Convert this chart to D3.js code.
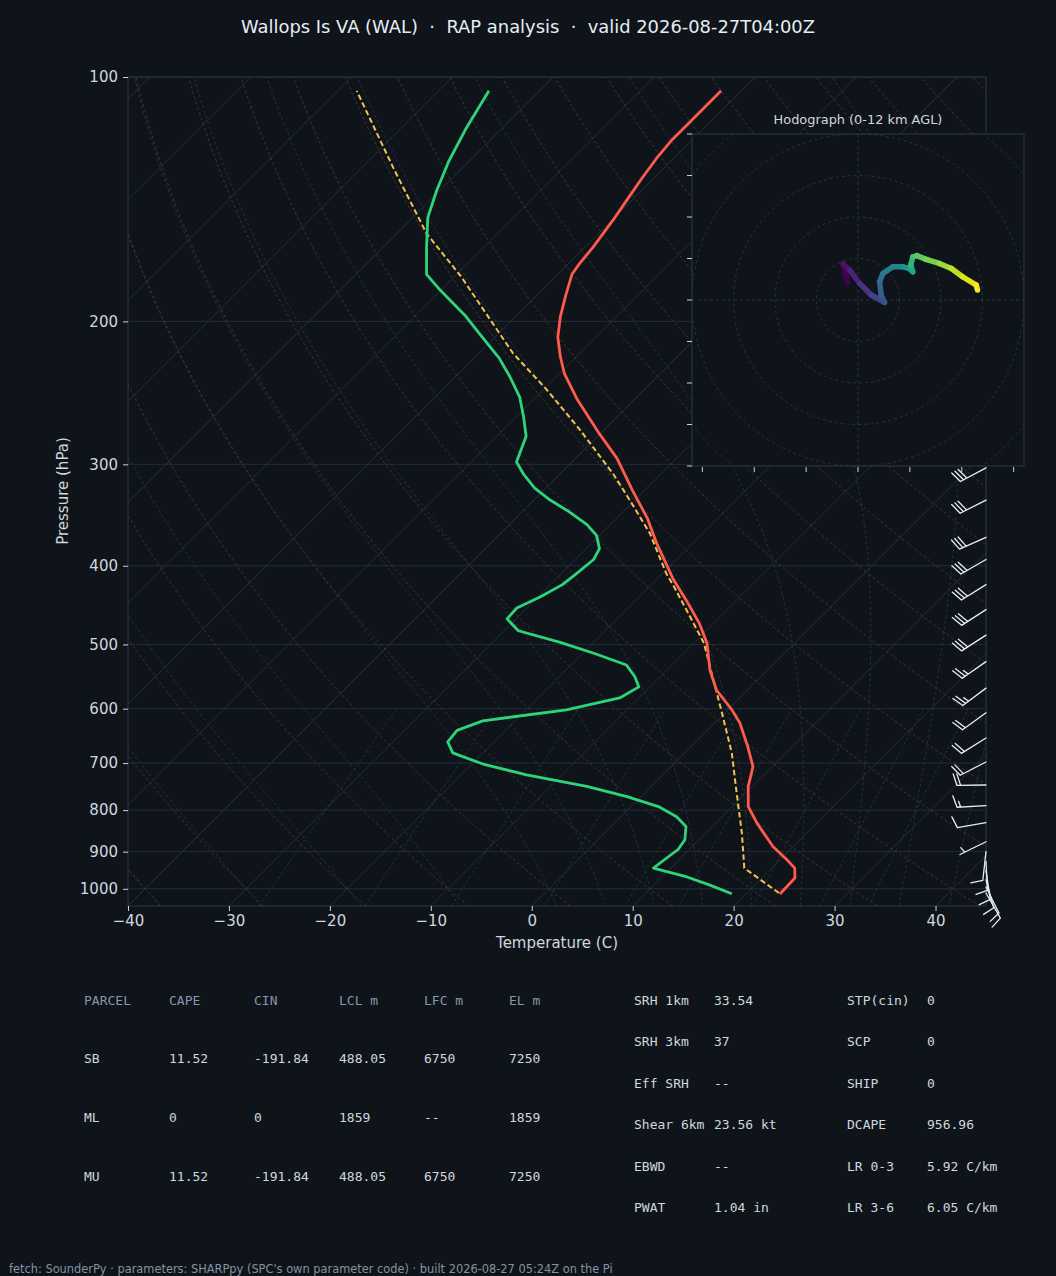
<!DOCTYPE html>
<html>
<head>
<meta charset="utf-8">
<title>Skew-T WAL</title>
<script src="https://cdn.jsdelivr.net/npm/d3@7"></script>
<style>
    body { margin: 0; background: #0f141b; }
    svg { display: block; font-family: "DejaVu Sans", sans-serif; }
    .mono { font-family: "DejaVu Sans Mono", monospace; font-size: 13px; }
</style>
</head>
<body>
<svg id="chart" width="1056" height="1276"></svg>
<script>
const tempP = [1015, 970, 943, 921, 887, 830, 792, 748, 707, 668, 625, 602, 569, 538, 498, 471, 441, 416, 375,
               350, 323, 295, 275, 249, 232, 221, 209, 197, 186, 175, 170, 162, 150, 142, 133, 126, 120, 112, 104];
const tempC = [23.4, 23.3, 22.3, 20.7, 18.0, 14.1, 11.6, 9.6, 8.1, 5.6, 2.5, 0.4, -3.1, -5.7, -8.7, -11.4, -15.0, -18.3, -23.6,
               -26.9, -31.2, -35.9, -40.1, -45.8, -49.5, -51.6, -53.8, -55.6, -57.1, -58.6, -58.9, -59.2, -59.9, -60.5, -61.2, -61.7, -62.0, -62.0, -62.0];

const dewP = [1014, 989, 967, 943, 917, 895, 870, 838, 815, 792, 770, 748, 724, 702, 680, 659, 638, 621, 602, 582,
              564, 548, 530, 513, 497, 481, 465, 451, 437, 422, 409, 393, 381, 367, 356, 343, 332, 321, 309, 298,
              277, 262, 248, 234, 222, 207, 197, 183, 175, 162, 149, 138, 127, 116, 104];
const dewC = [18.6, 15.5, 12.5, 8.3, 8.6, 8.9, 8.6, 7.4, 5.5, 2.7, -1.4, -6.4, -13.5, -18.9, -23.0, -24.6, -24.8, -23.2, -16.0, -11.9,
              -11.1, -12.5, -14.5, -18.8, -23.3, -28.6, -30.9, -31.0, -29.8, -28.8, -28.5, -28.2, -28.7, -30.3, -32.3, -35.4, -38.4, -41.1, -43.5, -45.5,
              -47.1, -49.3, -51.6, -54.6, -57.5, -61.9, -65.0, -70.1, -73.0, -75.7, -78.5, -80.3, -82.0, -83.5, -85.0];

const parcelP = [1012, 943, 854, 762, 681, 614, 548, 498, 462, 424, 409, 365, 338, 309, 272, 243, 219, 195, 176, 156, 130, 104];
const parcelC = [23.2, 17.3, 13.6, 9.1, 4.7, 0.2, -4.8, -9.0, -13.0, -17.6, -19.6, -25.2, -29.5, -34.6, -42.4, -49.6, -56.6, -63.4, -69.4, -77.0, -86.6, -98.1];

// wind barbs (kt)
const barbP = [303, 332, 369, 393, 422, 453, 487, 525, 566, 607, 652, 698, 745, 790, 829, 875, 900, 925, 950, 975, 995, 1012];
const barbU = [26.5, 26.7, 27.4, 26.0, 25.4, 23.5, 23.5, 22.1, 19.2, 17.8, 17.0, 17.8, 19.0, 15.0, 9.8, 4.5, 1.0, -0.5, -1.5, -2.5, -3.5, -4.0];
const barbV = [14.1, 13.6, 12.2, 15.0, 15.9, 15.2, 15.2, 15.5, 14.4, 12.9, 10.6, 9.1, 0.3, 0.8, 1.7, 2.2, 9.0, 10.0, 10.0, 9.0, 7.0, 7.0];

// hodograph trace 0-12 km (kt), surface first
const hodoU = [-2.5, -3.6, -2.0, 0.4, 3.2, 6.4, 5.6, 5.2, 6.0, 8.4, 10.8, 12.4, 13.2, 12.7, 13.2, 14.2, 16.4, 19.6, 22.5, 25.2, 28.5, 28.8];
const hodoV = [4.2, 8.7, 7.2, 4.0, 1.2, -0.6, 1.2, 4.4, 6.4, 8.0, 8.0, 7.6, 6.8, 8.4, 10.4, 10.7, 9.8, 8.8, 7.6, 5.6, 3.6, 2.4];
const hodoRings = [10, 20, 30, 40, 50];
const hodoYTicks = [-40, -30, -20, -10, 0, 10, 20, 30, 40];
const hodoXTicks = [-37.5, -25, -12.5, 0, 12.5, 25, 37.5];

const pressureTicks = [100, 200, 300, 400, 500, 600, 700, 800, 900, 1000];
const tempTicks = [-40, -30, -20, -10, 0, 10, 20, 30, 40];

const parcelHeader = ["PARCEL", "CAPE", "CIN", "LCL m", "LFC m", "EL m"];
const parcelRows = [
    ["SB", "11.52", "-191.84", "488.05", "6750", "7250"],
    ["ML", "0", "0", "1859", "--", "1859"],
    ["MU", "11.52", "-191.84", "488.05", "6750", "7250"]
];
const kinLabels = ["SRH 1km", "SRH 3km", "Eff SRH", "Shear 6km", "EBWD", "PWAT"];
const kinValues = ["33.54", "37", "--", "23.56 kt", "--", "1.04 in"];
const idxLabels = ["STP(cin)", "SCP", "SHIP", "DCAPE", "LR 0-3", "LR 3-6"];
const idxValues = ["0", "0", "0", "956.96", "5.92 C/km", "6.05 C/km"];

const titleText = "Wallops Is VA (WAL)  \u00b7  RAP analysis  \u00b7  valid 2026-08-27T04:00Z";
const footerText = "fetch: SounderPy \u00b7 parameters: SHARPpy (SPC's own parameter code) \u00b7 built 2026-08-27 05:24Z on the Pi";

// ---------- layout ----------
const svg = d3.select("#chart");
const plot = {left: 128, right: 986, top: 77, bottom: 906};
const hodoBox = {left: 692, right: 1024, top: 134, bottom: 466};
const textCol = "#d0d7de";
const spineCol = "#2f3a48";

svg.append("rect").attr("width", 1056).attr("height", 1276).attr("fill", "#0f141b");

const x = d3.scaleLinear().domain([-40, 45]).range([plot.left, plot.right]);
const y = d3.scaleLog().domain([1050, 100]).range([plot.bottom, plot.top]);
// 45 degree skew: one pixel right per pixel up
const sx = (t, p) => x(t) + (plot.bottom - y(p));

svg.append("defs").append("clipPath").attr("id", "plotclip")
    .append("rect").attr("x", plot.left).attr("y", plot.top)
    .attr("width", plot.right - plot.left).attr("height", plot.bottom - plot.top);

const bg = svg.append("g").attr("clip-path", "url(#plotclip)");
const line = d3.line().x(d => sx(d[0], d[1])).y(d => y(d[1]));

// thermo helpers for the reference lines
const Rd = 287.04749, Cp = 1004.666, Lv = 2.50084e6, eps = 0.6219569, kappa = Rd / Cp;
const esat = Tk => 6.112 * Math.exp(17.67 * (Tk - 273.15) / (Tk - 29.65));
function dTdp(p, T) {
    const es = esat(T), rs = eps * es / (p - es);
    return (Rd * T + Lv * rs) / (Cp + Lv * Lv * rs * eps / (Rd * T * T)) / p;
}
function rk4(p, T, h) {
    const k1 = dTdp(p, T), k2 = dTdp(p + h / 2, T + h / 2 * k1),
          k3 = dTdp(p + h / 2, T + h / 2 * k2), k4 = dTdp(p + h, T + h * k3);
    return T + h / 6 * (k1 + 2 * k2 + 2 * k3 + k4);
}
const pLevels = d3.range(1050, 95, -5);

// pressure grid
bg.selectAll(".pgrid").data(pressureTicks).join("line")
    .attr("x1", plot.left).attr("x2", plot.right)
    .attr("y1", d => y(d)).attr("y2", d => y(d))
    .attr("stroke", "#232c37").attr("stroke-width", 1);

// isotherms
bg.selectAll(".iso").data(d3.range(-160, 50, 10)).join("path")
    .attr("d", t => line([[t, 1050], [t, 100]]))
    .attr("fill", "none").attr("stroke", "#28313b").attr("stroke-width", 0.9);

// dry adiabats
bg.selectAll(".dry").data(d3.range(-40, 250, 10)).join("path")
    .attr("d", t0 => line(pLevels.map(p => [(t0 + 273.15) * Math.pow(p / 1000, kappa) - 273.15, p])))
    .attr("fill", "none").attr("stroke", "#4a3f2b").attr("stroke-width", 0.8)
    .attr("stroke-dasharray", "3,2.5");

// moist adiabats
const moistT0 = [-40, -30, -20, -10].concat(d3.range(0, 51, 5));
function moistProfile(t0) {
    const out = new Map();
    let Tk = t0 + 273.15, p = 1000;
    out.set(1000, Tk);
    while (p < 1050) { Tk = rk4(p, Tk, 5); p += 5; out.set(p, Tk); }
    Tk = t0 + 273.15; p = 1000;
    while (p > 100) { Tk = rk4(p, Tk, -5); p -= 5; out.set(p, Tk); }
    return pLevels.map(pp => [out.get(pp) - 273.15, pp]);
}
bg.selectAll(".moist").data(moistT0).join("path")
    .attr("d", t0 => line(moistProfile(t0)))
    .attr("fill", "none").attr("stroke", "#2a3847").attr("stroke-width", 0.8)
    .attr("stroke-dasharray", "3,2.5");

// mixing ratio lines
const mixW = [0.0004, 0.001, 0.002, 0.004, 0.007, 0.01, 0.016, 0.024, 0.032];
const mixLevels = d3.range(1050, 595, -5);
bg.selectAll(".mix").data(mixW).join("path")
    .attr("d", w => line(mixLevels.map(p => {
        const e = p * w / (eps + w), l = Math.log(e / 6.112);
        return [243.5 * l / (17.67 - l), p];
    })))
    .attr("fill", "none").attr("stroke", "#263a48").attr("stroke-width", 0.8)
    .attr("stroke-dasharray", "3,2.5");

// profiles
const prof = svg.append("g").attr("clip-path", "url(#plotclip)");
prof.append("path").datum(d3.zip(parcelC, parcelP)).attr("d", line)
    .attr("fill", "none").attr("stroke", "#f2c14e").attr("stroke-width", 2)
    .attr("stroke-dasharray", "5.5,3");
prof.append("path").datum(d3.zip(tempC, tempP)).attr("d", line)
    .attr("fill", "none").attr("stroke", "#ff5a4c").attr("stroke-width", 2.8)
    .attr("stroke-linejoin", "round");
prof.append("path").datum(d3.zip(dewC, dewP)).attr("d", line)
    .attr("fill", "none").attr("stroke", "#2ed47a").attr("stroke-width", 2.8)
    .attr("stroke-linejoin", "round");

// axes frame
svg.append("rect").attr("x", plot.left).attr("y", plot.top)
    .attr("width", plot.right - plot.left).attr("height", plot.bottom - plot.top)
    .attr("fill", "none").attr("stroke", spineCol).attr("stroke-width", 1);

const yAxis = svg.append("g").attr("transform", `translate(${plot.left},0)`)
    .call(d3.axisLeft(y).tickValues(pressureTicks).tickFormat(d3.format("d")).tickSize(5).tickPadding(5));
const xAxis = svg.append("g").attr("transform", `translate(0,${plot.bottom})`)
    .call(d3.axisBottom(x).tickValues(tempTicks).tickFormat(d => d < 0 ? "\u2212" + Math.abs(d) : d).tickSize(5).tickPadding(4));
[yAxis, xAxis].forEach(a => {
    a.select(".domain").remove();
    a.selectAll(".tick line").attr("stroke", "#c9d1d9");
    a.selectAll(".tick text").attr("fill", textCol).style("font-size", "15px")
        .style("font-family", "DejaVu Sans");
});

svg.append("text").attr("x", 557).attr("y", 948).attr("text-anchor", "middle")
    .attr("fill", textCol).style("font-size", "15px").text("Temperature (C)");
svg.append("text").attr("transform", "translate(68,491) rotate(-90)").attr("text-anchor", "middle")
    .attr("fill", textCol).style("font-size", "15px").text("Pressure (hPa)");
svg.append("text").attr("x", 528).attr("y", 33).attr("text-anchor", "middle")
    .attr("fill", "#e6edf3").style("font-size", "17.9px").style("white-space", "pre")
    .attr("xml:space", "preserve").text(titleText);

// ---------- wind barbs (pivot at the right spine) ----------
function barbPath(bx, by, u, v) {
    const L = 29, mag = Math.hypot(u, v);
    const s = 5 * Math.round(mag / 5);
    const dx = -u / mag, dy = v / mag;     // staff toward where wind comes from
    const nx = -v / mag, ny = -u / mag;    // feather side
    const P = (t, h) => [bx + dx * t + nx * h, by + dy * t + ny * h];
    const nFlags = Math.floor(s / 50), nBarbs = Math.floor((s % 50) / 10), half = (s % 10) >= 5;
    const segs = [[P(0, 0), P(L, 0)]];
    let off = L;
    for (let i = 0; i < nFlags; i++) {
        segs.push([P(off, 0), P(off - 0.125 * L, 0.4 * L), P(off - 0.25 * L, 0)]);
        off -= 0.25 * L + 0.125 * L;
    }
    for (let i = 0; i < nBarbs; i++) {
        segs.push([P(off, 0), P(off + 0.125 * L, 0.4 * L)]);
        off -= 0.125 * L;
    }
    if (half) {
        if (off === L) off -= 1.5 * 0.125 * L;
        segs.push([P(off, 0), P(off + 0.0625 * L, 0.2 * L)]);
    }
    return segs.map(sg => "M" + sg.map(q => q[0].toFixed(2) + "," + q[1].toFixed(2)).join("L")).join("");
}
svg.append("g").selectAll("path").data(d3.range(barbP.length)).join("path")
    .attr("d", i => barbPath(plot.right, y(barbP[i]), barbU[i], barbV[i]))
    .attr("fill", "none").attr("stroke", "#e6edf3").attr("stroke-width", 1.3)
    .attr("stroke-linecap", "round");

// ---------- hodograph inset ----------
const hx = d3.scaleLinear().domain([-40, 40]).range([hodoBox.left, hodoBox.right]);
const hy = d3.scaleLinear().domain([-40, 40]).range([hodoBox.bottom, hodoBox.top]);
const hodo = svg.append("g");
hodo.append("defs").append("clipPath").attr("id", "hodoclip")
    .append("rect").attr("x", hodoBox.left).attr("y", hodoBox.top)
    .attr("width", hodoBox.right - hodoBox.left).attr("height", hodoBox.bottom - hodoBox.top);
hodo.append("rect").attr("x", hodoBox.left).attr("y", hodoBox.top)
    .attr("width", hodoBox.right - hodoBox.left).attr("height", hodoBox.bottom - hodoBox.top)
    .attr("fill", "#0f141b");
const hin = hodo.append("g").attr("clip-path", "url(#hodoclip)");
hin.selectAll("circle").data(hodoRings).join("circle")
    .attr("cx", hx(0)).attr("cy", hy(0)).attr("r", d => hx(d) - hx(0))
    .attr("fill", "none").attr("stroke", "#2a3644").attr("stroke-width", 0.9).attr("stroke-dasharray", "3,3");
hin.append("line").attr("x1", hodoBox.left).attr("x2", hodoBox.right).attr("y1", hy(0)).attr("y2", hy(0))
    .attr("stroke", "#2a3644").attr("stroke-width", 0.9).attr("stroke-dasharray", "3,3");
hin.append("line").attr("x1", hx(0)).attr("x2", hx(0)).attr("y1", hodoBox.top).attr("y2", hodoBox.bottom)
    .attr("stroke", "#2a3644").attr("stroke-width", 0.9).attr("stroke-dasharray", "3,3");
const nH = hodoU.length;
hin.selectAll(".seg").data(d3.range(nH - 1)).join("line")
    .attr("x1", i => hx(hodoU[i])).attr("y1", i => hy(hodoV[i]))
    .attr("x2", i => hx(hodoU[i + 1])).attr("y2", i => hy(hodoV[i + 1]))
    .attr("stroke", i => d3.interpolateViridis(i / (nH - 2)))
    .attr("stroke-width", 5.5).attr("stroke-linecap", "round");
hodo.append("rect").attr("x", hodoBox.left).attr("y", hodoBox.top)
    .attr("width", hodoBox.right - hodoBox.left).attr("height", hodoBox.bottom - hodoBox.top)
    .attr("fill", "none").attr("stroke", spineCol).attr("stroke-width", 1);
hodo.selectAll(".hyt").data(hodoYTicks).join("line")
    .attr("x1", hodoBox.left - 5).attr("x2", hodoBox.left).attr("y1", d => hy(d)).attr("y2", d => hy(d))
    .attr("stroke", "#c9d1d9").attr("stroke-width", 1);
hodo.selectAll(".hxt").data(hodoXTicks).join("line")
    .attr("x1", d => hx(d)).attr("x2", d => hx(d)).attr("y1", hodoBox.bottom + 1).attr("y2", hodoBox.bottom + 6)
    .attr("stroke", "#c9d1d9").attr("stroke-width", 1);
hodo.append("text").attr("x", (hodoBox.left + hodoBox.right) / 2).attr("y", 124).attr("text-anchor", "middle")
    .attr("fill", textCol).style("font-size", "12.9px").text("Hodograph (0-12 km AGL)");

// ---------- parameter tables ----------
const tbl = svg.append("g").attr("class", "mono");
const colX = [84, 169, 254, 339, 424, 509];
const rowY = [1004.5, 1063, 1122, 1181];
tbl.selectAll(".hdr").data(parcelHeader).join("text")
    .attr("x", (d, i) => colX[i]).attr("y", rowY[0]).attr("fill", "#8796aa").text(d => d);
parcelRows.forEach((row, r) => {
    tbl.append("g").selectAll("text").data(row).join("text")
        .attr("x", (d, i) => colX[i]).attr("y", rowY[r + 1]).attr("fill", textCol).text(d => d);
});
const kRowY = [1004.5, 1046, 1087.5, 1129, 1170.5, 1212];
const kCols = [[634, kinLabels], [714, kinValues], [847, idxLabels], [927, idxValues]];
kCols.forEach(([cx, arr]) => {
    tbl.append("g").selectAll("text").data(arr).join("text")
        .attr("x", cx).attr("y", (d, i) => kRowY[i]).attr("fill", textCol).text(d => d);
});

svg.append("text").attr("x", 9).attr("y", 1273).attr("fill", "#8592a0")
    .style("font-size", "11.4px").text(footerText);
</script>
</body>
</html>
